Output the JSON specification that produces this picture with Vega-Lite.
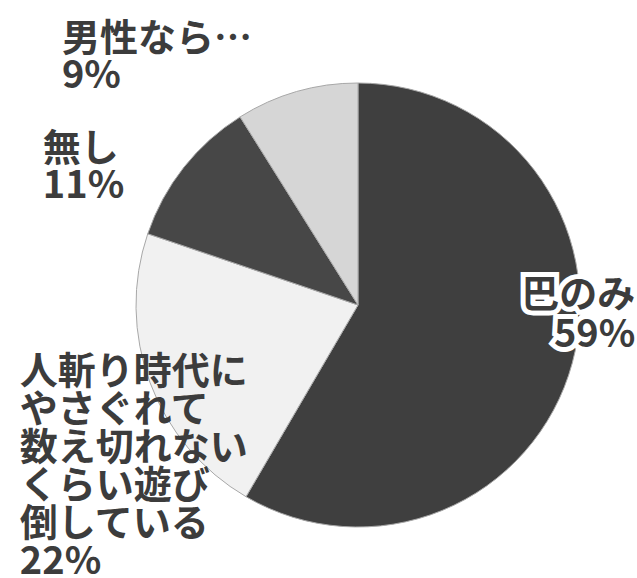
{
  "$schema": "https://vega.github.io/schema/vega-lite/v6.json",
  "autosize": "none",
  "width": 558,
  "height": 546,
  "padding": {"left": 79, "top": 32, "right": 0, "bottom": 0},
  "background": "white",
  "view": {"stroke": null},
  "data": {
    "values": [
      {"label": "巴のみ", "text": "巴のみ\n59%", "value": 59, "order": 1},
      {"label": "人斬り時代にやさぐれて数え切れないくらい遊び倒している", "text": "人斬り時代に\nやさぐれて\n数え切れない\nくらい遊び\n倒している\n22%", "value": 22, "order": 2},
      {"label": "無し", "text": "無し\n11%", "value": 11, "order": 3},
      {"label": "男性なら…", "text": "男性なら…\n9%", "value": 9, "order": 4}
    ]
  },
  "encoding": {
    "theta": {"field": "value", "type": "quantitative", "stack": true},
    "order": {"field": "order", "type": "quantitative", "sort": "ascending"}
  },
  "layer": [
    {
      "mark": {"type": "arc", "outerRadius": 222, "stroke": "#a8a8a8", "strokeWidth": 1},
      "encoding": {
        "color": {
          "field": "label", "type": "nominal", "legend": null,
          "scale": {
            "domain": ["巴のみ", "人斬り時代にやさぐれて数え切れないくらい遊び倒している", "無し", "男性なら…"],
            "range": ["#3f3f3f", "#f1f1f1", "#474747", "#d6d6d6"]
          }
        }
      }
    },
    {
      "mark": {"type": "text", "radius": 250, "align": "right", "baseline": "middle", "dx": 36, "dy": -74, "lineBreak": "\n", "font": "Noto Sans CJK JP", "fontWeight": "bold", "fontSize": 38, "lineHeight": 40, "fill": "white", "stroke": "white", "strokeWidth": 10, "strokeJoin": "miter"},
      "encoding": {"text": {"condition": {"test": "datum.order === 1", "field": "text"}, "value": ""}}
    },
    {
      "mark": {"type": "text", "radius": 250, "align": "right", "baseline": "middle", "dx": 36, "dy": -74, "lineBreak": "\n", "font": "Noto Sans CJK JP", "fontWeight": "bold", "fontSize": 38, "lineHeight": 40, "fill": "#3c3c3c"},
      "encoding": {"text": {"condition": {"test": "datum.order === 1", "field": "text"}, "value": ""}}
    },
    {
      "mark": {"type": "text", "radius": 250, "align": "left", "baseline": "middle", "dx": -104, "dy": -20, "lineBreak": "\n", "font": "Noto Sans CJK JP", "fontWeight": "bold", "fontSize": 38, "lineHeight": 38, "fill": "#3c3c3c"},
      "encoding": {"text": {"condition": {"test": "datum.order === 2", "field": "text"}, "value": ""}}
    },
    {
      "mark": {"type": "text", "radius": 250, "align": "left", "baseline": "middle", "dx": -119, "dy": 0, "lineBreak": "\n", "font": "Noto Sans CJK JP", "fontWeight": "bold", "fontSize": 38, "lineHeight": 37, "fill": "#3c3c3c"},
      "encoding": {"text": {"condition": {"test": "datum.order === 3", "field": "text"}, "value": ""}}
    },
    {
      "mark": {"type": "text", "radius": 250, "align": "left", "baseline": "middle", "dx": -227, "dy": -25, "lineBreak": "\n", "font": "Noto Sans CJK JP", "fontWeight": "bold", "fontSize": 38, "lineHeight": 37, "fill": "#3c3c3c"},
      "encoding": {"text": {"condition": {"test": "datum.order === 4", "field": "text"}, "value": ""}}
    }
  ]
}
